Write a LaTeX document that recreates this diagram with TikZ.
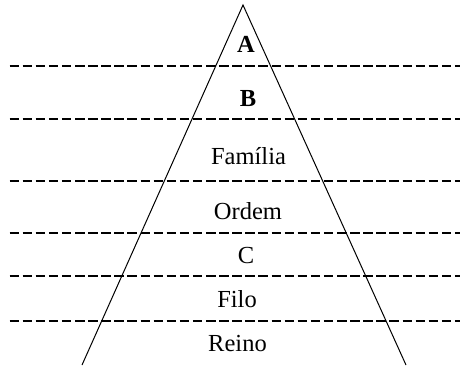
\documentclass[tikz,border=0pt]{standalone}
\usepackage{fontspec}
\setmainfont{Liberation Serif}
\usetikzlibrary{positioning}
\tikzset{side/.style={line width=1pt}}
\tikzset{level line/.style={line width=1.2pt, dash pattern=on 9.5pt off 3.6pt}}
\tikzset{rank/.style={anchor=base, inner sep=0pt, font=\fontsize{24.5}{28}\selectfont}}

\begin{document}
\begin{tikzpicture}[x=1pt, y=-1pt]
                \useasboundingbox (0, 0) rectangle (462, 365);
                \coordinate (apex) at (243, 5);
                \coordinate (base left) at (82, 365);
                \coordinate (base right) at (406, 365);
                \draw[side] (base left) -- (apex) -- (base right);
                \foreach \y [count=\i] in {66, 119, 181, 233, 276, 321} {
                    \coordinate (l\i) at (9.5, \y);
                    \coordinate (r\i) at (460, \y);
                    \draw[level line] (l\i) -- (r\i);
                }
                \node[rank, font=\fontsize{24.5}{28}\selectfont\bfseries] (a) at (246, 52) {A};
                \node[rank, font=\fontsize{24.5}{28}\selectfont\bfseries] (b) at (248, 106) {B};
                \node[rank] (familia) at (248.5, 164) {Família};
                \node[rank] (ordem) at (248, 219) {Ordem};
                \node[rank] (c) at (246, 263) {C};
                \node[rank] (filo) at (237, 307) {Filo};
                \node[rank] (reino) at (237.5, 351) {Reino};
            \end{tikzpicture}
\end{document}
